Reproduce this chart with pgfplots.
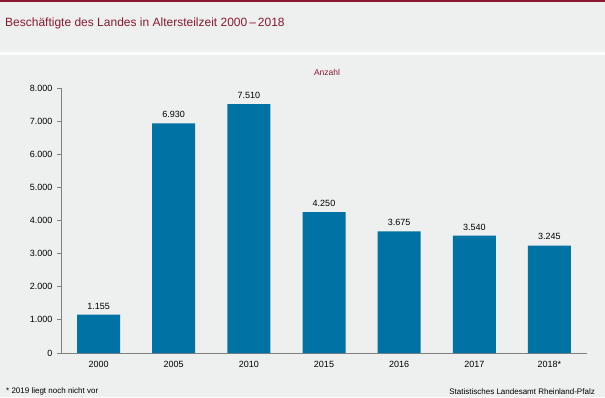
\documentclass[border=0pt]{standalone}
\usepackage{pgfplots}
\pgfplotsset{compat=1.18}
\usepackage{fontspec}
\setmainfont{Liberation Sans}
\definecolor{bgc}{RGB}{238,239,239}
\definecolor{barc}{RGB}{0,114,163}
\definecolor{redc}{RGB}{139,26,48}
\definecolor{axc}{RGB}{128,128,128}
\begin{document}
\begin{tikzpicture}[x=1pt,y=1pt]
\fill[bgc] (0,0) rectangle (605,397);
\fill[redc] (0,394.5) rectangle (605,397);
\fill[white] (0,342) rectangle (605,345);
\node[anchor=west,text=redc,font=\fontsize{12}{14}\selectfont,inner sep=0pt] at (5,374) {Beschäftigte des Landes in Altersteilzeit 2000\,–\,2018};
\node[text=redc,font=\fontsize{8.5}{10}\selectfont,inner sep=0pt] at (327,325) {Anzahl};
\node[anchor=west,font=\fontsize{8}{9}\selectfont,inner sep=0pt] at (6,6) {* 2019 liegt noch nicht vor};
\node[anchor=east,font=\fontsize{8}{9}\selectfont,inner sep=0pt] at (595,5) {Statistisches Landesamt Rheinland-Pfalz};
\begin{axis}[
  at={(61pt,44pt)}, anchor=south west,
  scale only axis, width=526pt, height=265pt,
  xmin=-0.5, xmax=6.5, ymin=0, ymax=8000,
  xtick=data,
  xticklabels={2000,2005,2010,2015,2016,2017,2018*},
  ytick={0,1000,...,8000},
  axis x line*=bottom, axis y line*=left,
  axis line style={axc,thick,-},
  x axis line style={-}, y axis line style={-},
  major x tick style={draw=none},
  major y tick style={axc,thick},
  tick align=outside, major tick length=4pt,
  /pgf/number format/assume math mode=true,
  /pgf/number format/1000 sep={.},
  tick label style={font=\fontsize{9}{10}\selectfont},
  yticklabel style={xshift=-1pt},
  xticklabel style={yshift=-1pt},
  ybar, bar width=43pt,
  nodes near coords,
  nodes near coords style={font=\fontsize{9}{10}\selectfont, yshift=2pt,
    /pgf/number format/1000 sep={.}},
]
\addplot[fill=barc, draw=none] coordinates {(0,1155) (1,6930) (2,7510) (3,4250) (4,3675) (5,3540) (6,3245)};
\end{axis}
\end{tikzpicture}
\end{document}
